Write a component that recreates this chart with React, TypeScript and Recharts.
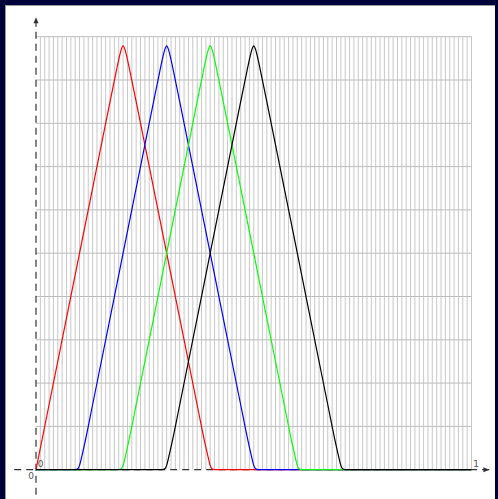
import React from 'react'
import { LineChart, Line, XAxis, YAxis, ReferenceLine, ReferenceDot } from 'recharts'

// curve samples (x, y)
const red = [
  { x: 0, y: 0 }, { x: 0.03, y: 0.15 }, { x: 0.1, y: 0.5 }, { x: 0.17, y: 0.85 },
  { x: 0.18, y: 0.899 }, { x: 0.19, y: 0.947 }, { x: 0.195, y: 0.968 }, { x: 0.2, y: 0.979 },
  { x: 0.205, y: 0.968 }, { x: 0.21, y: 0.947 }, { x: 0.22, y: 0.899 }, { x: 0.23, y: 0.85 },
  { x: 0.3, y: 0.5 }, { x: 0.37, y: 0.15 }, { x: 0.39, y: 0.052 }, { x: 0.395, y: 0.03 },
  { x: 0.4, y: 0.01 }, { x: 0.404, y: 0.002 }, { x: 0.41, y: 0 }, { x: 1, y: 0 },
]
const blue = [
  { x: 0, y: 0 }, { x: 0.09, y: 0 }, { x: 0.096, y: 0.002 }, { x: 0.1, y: 0.01 },
  { x: 0.105, y: 0.03 }, { x: 0.11, y: 0.052 }, { x: 0.13, y: 0.15 }, { x: 0.2, y: 0.5 },
  { x: 0.27, y: 0.85 }, { x: 0.28, y: 0.899 }, { x: 0.29, y: 0.947 }, { x: 0.295, y: 0.968 },
  { x: 0.3, y: 0.979 }, { x: 0.305, y: 0.968 }, { x: 0.31, y: 0.947 }, { x: 0.32, y: 0.899 },
  { x: 0.33, y: 0.85 }, { x: 0.4, y: 0.5 }, { x: 0.47, y: 0.15 }, { x: 0.49, y: 0.052 },
  { x: 0.495, y: 0.03 }, { x: 0.5, y: 0.01 }, { x: 0.504, y: 0.002 }, { x: 0.51, y: 0 }, { x: 1, y: 0 },
]
const green = [
  { x: 0, y: 0 }, { x: 0.19, y: 0 }, { x: 0.196, y: 0.002 }, { x: 0.2, y: 0.01 },
  { x: 0.205, y: 0.03 }, { x: 0.21, y: 0.052 }, { x: 0.23, y: 0.15 }, { x: 0.3, y: 0.5 },
  { x: 0.37, y: 0.85 }, { x: 0.38, y: 0.899 }, { x: 0.39, y: 0.947 }, { x: 0.395, y: 0.968 },
  { x: 0.4, y: 0.979 }, { x: 0.405, y: 0.968 }, { x: 0.41, y: 0.947 }, { x: 0.42, y: 0.899 },
  { x: 0.43, y: 0.85 }, { x: 0.5, y: 0.5 }, { x: 0.57, y: 0.15 }, { x: 0.59, y: 0.052 },
  { x: 0.595, y: 0.03 }, { x: 0.6, y: 0.01 }, { x: 0.604, y: 0.002 }, { x: 0.61, y: 0 }, { x: 1, y: 0 },
]
const black = [
  { x: 0, y: 0 }, { x: 0.29, y: 0 }, { x: 0.296, y: 0.002 }, { x: 0.3, y: 0.01 },
  { x: 0.305, y: 0.03 }, { x: 0.31, y: 0.052 }, { x: 0.33, y: 0.15 }, { x: 0.4, y: 0.5 },
  { x: 0.47, y: 0.85 }, { x: 0.48, y: 0.899 }, { x: 0.49, y: 0.947 }, { x: 0.495, y: 0.968 },
  { x: 0.5, y: 0.979 }, { x: 0.505, y: 0.968 }, { x: 0.51, y: 0.947 }, { x: 0.52, y: 0.899 },
  { x: 0.53, y: 0.85 }, { x: 0.6, y: 0.5 }, { x: 0.67, y: 0.15 }, { x: 0.69, y: 0.052 },
  { x: 0.695, y: 0.03 }, { x: 0.7, y: 0.01 }, { x: 0.704, y: 0.002 }, { x: 0.71, y: 0 }, { x: 1, y: 0 },
]

const xTicks = Array.from({ length: 101 }, (_, i) => i / 100)
const yTicks = [0.1, 0.2, 0.3, 0.4, 0.5, 0.6, 0.7, 0.8, 0.9, 1]

const AXIS = '#333'

function ArrowLine(props: any) {
  const { x1, y1, x2, y2 } = props
  const vertical = Math.abs(x1 - x2) < 1
  // arrow at the far end (top for y axis, right for x axis)
  const tipX = vertical ? x1 : Math.max(x1, x2)
  const tipY = vertical ? Math.min(y1, y2) : y1
  const head = vertical
    ? `M${tipX},${tipY} L${tipX - 2.5},${tipY + 6} L${tipX + 2.5},${tipY + 6} Z`
    : `M${tipX},${tipY} L${tipX - 6},${tipY - 2.5} L${tipX - 6},${tipY + 2.5} Z`
  return (
    <g>
      <line x1={x1} y1={y1} x2={x2} y2={y2} stroke={AXIS} strokeWidth={1.2} strokeDasharray="7 5" />
      <path d={head} fill={AXIS} />
    </g>
  )
}

const labelStyle = { fontSize: 9, fill: '#555', fontFamily: 'DejaVu Sans, sans-serif' }

export default function App() {
  return (
    <div style={{ position: 'fixed', inset: 0, background: '#00003a' }}>
      <div style={{ position: 'absolute', left: 5, top: 5, width: 489, height: 494, background: '#fff', borderTop: '1px solid #999', borderLeft: '1px solid #999' }} />
      <div style={{ position: 'absolute', left: 0, top: 0 }}>
        <LineChart width={498} height={499} margin={{ top: 36.7, left: 36, right: 26.5, bottom: 29.3 }}>
          <XAxis type="number" dataKey="x" domain={[0, 1]} axisLine={false} tickLine={false} tick={false} height={0} />
          <YAxis type="number" domain={[0, 1]} axisLine={false} tickLine={false} tick={false} width={0} />
          {xTicks.slice(1).map((t) => (
            <ReferenceLine key={'v' + t} x={t} stroke="#c8c8c8" strokeWidth={1} />
          ))}
          {yTicks.map((t) => (
            <ReferenceLine key={'h' + t} y={t} stroke="#bdbdbd" strokeWidth={1} />
          ))}
          <ReferenceLine segment={[{ x: 0, y: -0.058 }, { x: 0, y: 1.045 }]} ifOverflow="visible" shape={ArrowLine} />
          <ReferenceLine segment={[{ x: -0.05, y: 0 }, { x: 1.041, y: 0 }]} ifOverflow="visible" shape={ArrowLine} />
          <Line data={red} dataKey="y" type="monotone" stroke="#ff0000" strokeWidth={1.2} dot={false} isAnimationActive={false} />
          <Line data={blue} dataKey="y" type="monotone" stroke="#0000ff" strokeWidth={1.2} dot={false} isAnimationActive={false} />
          <Line data={green} dataKey="y" type="monotone" stroke="#00ff00" strokeWidth={1.2} dot={false} isAnimationActive={false} />
          <Line data={black} dataKey="y" type="monotone" stroke="#000000" strokeWidth={1.2} dot={false} isAnimationActive={false} />
          <ReferenceDot x={0} y={0} r={0} ifOverflow="visible" shape={(p: any) => (
            <g>
              <text x={p.cx + 4.5} y={p.cy - 3} textAnchor="middle" style={labelStyle}>0</text>
              <text x={p.cx - 5} y={p.cy + 9} textAnchor="middle" style={labelStyle}>0</text>
            </g>
          )} />
          <ReferenceDot x={1} y={0} r={0} ifOverflow="visible" shape={(p: any) => (
            <text x={p.cx + 4.5} y={p.cy - 3} textAnchor="middle" style={labelStyle}>1</text>
          )} />
        </LineChart>
      </div>
    </div>
  )
}
